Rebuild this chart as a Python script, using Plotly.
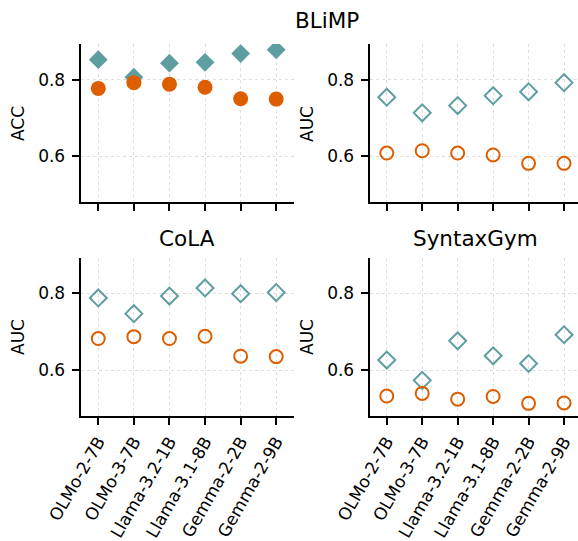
import plotly.graph_objects as go

models = ["OLMo-2-7B", "OLMo-3-7B", "Llama-3.2-1B", "Llama-3.1-8B", "Gemma-2-2B", "Gemma-2-9B"]

blimp_acc_teal = [0.852, 0.806, 0.843, 0.845, 0.868, 0.878]
blimp_acc_orange = [0.777, 0.792, 0.788, 0.780, 0.750, 0.749]
blimp_auc_teal = [0.754, 0.713, 0.732, 0.758, 0.768, 0.792]
blimp_auc_orange = [0.608, 0.614, 0.608, 0.603, 0.581, 0.581]
cola_auc_teal = [0.788, 0.747, 0.793, 0.814, 0.799, 0.802]
cola_auc_orange = [0.682, 0.687, 0.682, 0.688, 0.636, 0.635]
syntaxgym_auc_teal = [0.626, 0.573, 0.676, 0.637, 0.617, 0.692]
syntaxgym_auc_orange = [0.532, 0.539, 0.524, 0.531, 0.513, 0.514]

y_ticks = [0.6, 0.8]
y_tick_text = ["0.6", "0.8"]

TEAL = "#5F9EA0"
ORANGE = "#DD5E00"
W, H = 578, 541
FONT = "DejaVu Sans"

fig = go.Figure()
xidx = list(range(len(models)))

panels = [
    ("x", "y", blimp_acc_teal, blimp_acc_orange, True),
    ("x2", "y2", blimp_auc_teal, blimp_auc_orange, False),
    ("x3", "y3", cola_auc_teal, cola_auc_orange, False),
    ("x4", "y4", syntaxgym_auc_teal, syntaxgym_auc_orange, False),
]

for xa, ya, teal, orange, filled in panels:
    if filled:
        fig.add_trace(go.Scatter(x=xidx, y=teal, mode="markers", xaxis=xa, yaxis=ya,
                                 marker=dict(symbol="diamond", size=14.5, color=TEAL,
                                             line=dict(width=0)), showlegend=False))
        fig.add_trace(go.Scatter(x=xidx, y=orange, mode="markers", xaxis=xa, yaxis=ya,
                                 marker=dict(symbol="circle", size=15, color=ORANGE,
                                             line=dict(width=0)), showlegend=False))
    else:
        fig.add_trace(go.Scatter(x=xidx, y=teal, mode="markers", xaxis=xa, yaxis=ya,
                                 marker=dict(symbol="diamond-open", size=13, color=TEAL,
                                             line=dict(width=2, color=TEAL)), showlegend=False))
        fig.add_trace(go.Scatter(x=xidx, y=orange, mode="markers", xaxis=xa, yaxis=ya,
                                 marker=dict(symbol="circle-open", size=13, color=ORANGE,
                                             line=dict(width=2, color=ORANGE)), showlegend=False))

def px_x(p):
    return p / W

def px_y(p):
    return 1 - p / H

xl_dom = [px_x(80.5), px_x(294)]
xr_dom = [px_x(369.5), 1.0]
yt_dom = [px_y(202), px_y(44)]
yb_dom = [px_y(416), px_y(257.7)]
yrange = [0.48, 0.893]

common_x = dict(showline=True, linecolor="black", linewidth=1.8, ticks="outside", ticklen=7,
                tickwidth=1.5, tickcolor="black", showgrid=True, gridcolor="#dedede",
                griddash="dot", gridwidth=1, zeroline=False, tickmode="array",
                tickvals=xidx, ticktext=models, tickangle=-60, automargin=False,
                tickfont=dict(family=FONT, size=17, color="black"))
common_y = dict(showline=True, linecolor="black", linewidth=1.8, ticks="outside", ticklen=7,
                tickwidth=1.5, tickcolor="black", showgrid=True, gridcolor="#dedede",
                griddash="dot", gridwidth=1, zeroline=False, tickmode="array",
                tickvals=y_ticks, ticktext=y_tick_text, range=yrange, automargin=False,
                tickfont=dict(family=FONT, size=17, color="black"), ticklabelstandoff=3)

fig.update_layout(
    template="none",
    width=W, height=H, margin=dict(l=0, r=0, t=0, b=0, pad=0),
    paper_bgcolor="white", plot_bgcolor="white",
    font=dict(family=FONT, color="black"),
    xaxis=dict(common_x, domain=xl_dom, range=[-0.5, 5.5], anchor="y", showticklabels=False),
    yaxis=dict(common_y, domain=yt_dom, anchor="x"),
    xaxis2=dict(common_x, domain=xr_dom, range=[-0.487, 5.394], anchor="y2", showticklabels=False),
    yaxis2=dict(common_y, domain=yt_dom, anchor="x2"),
    xaxis3=dict(common_x, domain=xl_dom, range=[-0.5, 5.5], anchor="y3"),
    yaxis3=dict(common_y, domain=yb_dom, anchor="x3"),
    xaxis4=dict(common_x, domain=xr_dom, range=[-0.487, 5.394], anchor="y4"),
    yaxis4=dict(common_y, domain=yb_dom, anchor="x4"),
)

def ann(text, xp, yp, size, angle=0):
    fig.add_annotation(text=text, x=px_x(xp), y=px_y(yp), xref="paper", yref="paper",
                       showarrow=False, xanchor="center", yanchor="middle", textangle=angle,
                       font=dict(family=FONT, size=size, color="black"))

ann("BLiMP", 327, 20, 21.5)
ann("CoLA", 187, 238, 21.5)
ann("SyntaxGym", 475, 238, 21.5)
ann("ACC", 18, 124, 17, -90)
ann("AUC", 307, 124, 17, -90)
ann("AUC", 18, 337, 17, -90)
ann("AUC", 307, 337, 17, -90)

fig.write_html("out.html")
